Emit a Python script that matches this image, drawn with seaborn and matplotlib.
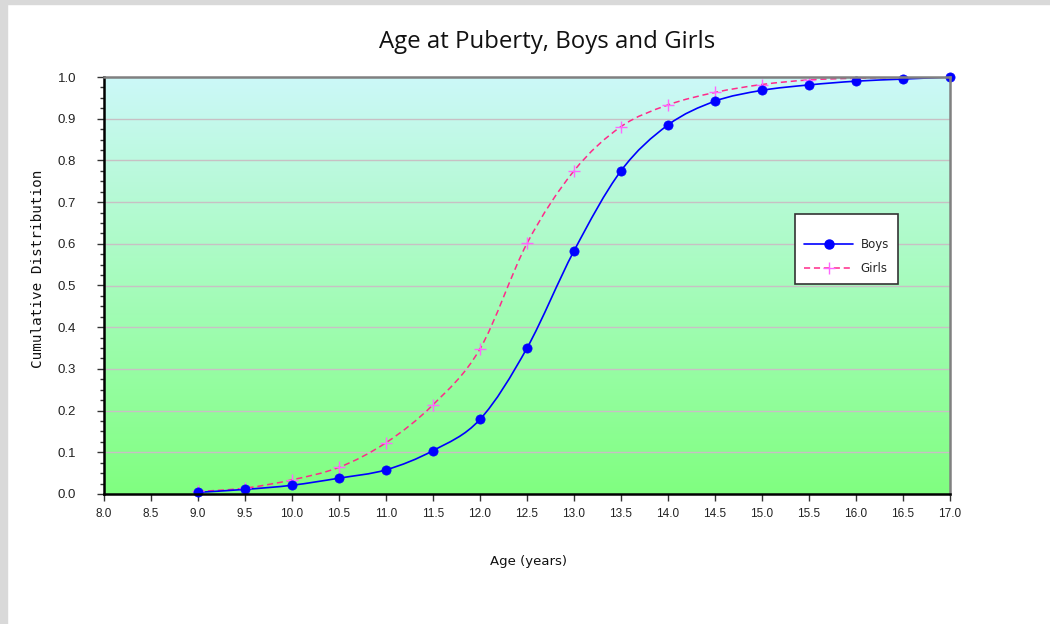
import numpy as np
import matplotlib
matplotlib.use("Agg")
import matplotlib.pyplot as plt
import seaborn as sns
from matplotlib.path import Path
from matplotlib.patches import PathPatch, Rectangle
from matplotlib.lines import Line2D
from matplotlib.ticker import MultipleLocator, FormatStrFormatter
import pandas as pd

ages = [9.0, 9.5, 10.0, 10.5, 11.0, 11.5, 12.0, 12.5, 13.0, 13.5, 14.0, 14.5, 15.0, 15.5, 16.0, 16.5, 17.0]
boys = [0.004, 0.011, 0.021, 0.038, 0.058, 0.104, 0.179, 0.350, 0.583, 0.775, 0.885, 0.942, 0.968, 0.981, 0.990, 0.995, 1.000]
girls = [0.006, 0.014, 0.034, 0.064, 0.123, 0.214, 0.348, 0.601, 0.775, 0.881, 0.933, 0.963, 0.982, 0.993, 0.997, 0.999, 1.000]
series_names = ["Boys", "Girls"]
title = "Age at Puberty, Boys and Girls"
xlabel = "Age (years)"
ylabel = "Cumulative Distribution"

sns.set_theme(style="white")

W, H = 1050, 624
fig = plt.figure(figsize=(W / 100, H / 100), dpi=100)
fig.patch.set_facecolor("white")
# gray frame strips
fig.patches.append(Rectangle((0, 0), 7 / W, 1, transform=fig.transFigure, color="#D9D9D9", zorder=0))
fig.patches.append(Rectangle((0, 1 - 4 / H), 1, 4 / H, transform=fig.transFigure, color="#D9D9D9", zorder=0))

left, right, top, bottom = 104, 950, 77, 494
ax = fig.add_axes([left / W, 1 - bottom / H, (right - left) / W, (bottom - top) / H])
ax.set_xlim(8, 17)
ax.set_ylim(0, 1)

# gradient background
grad = np.linspace(0, 1, 256).reshape(-1, 1)
c_top = np.array([0xCC, 0xF8, 0xF8]) / 255
c_bot = np.array([0x80, 0xFF, 0x80]) / 255
img = c_top[None, None, :] * (1 - grad[..., None]) + c_bot[None, None, :] * grad[..., None]
ax.imshow(img, extent=[8, 17, 0, 1], aspect="auto", origin="upper", zorder=0)

for yv in np.arange(0.1, 1.0, 0.1):
    ax.axhline(yv, color="#C8C0C4", lw=1.0, zorder=1)


def smooth_path(xs, ys):
    pts = np.column_stack([xs, ys])
    n = len(pts)
    verts = [pts[0]]
    codes = [Path.MOVETO]
    for i in range(n - 1):
        p0 = pts[i - 1] if i > 0 else pts[i]
        p1 = pts[i]
        p2 = pts[i + 1]
        p3 = pts[i + 2] if i + 2 < n else pts[i + 1]
        c1 = p1 + (p2 - p0) / 6.0
        c2 = p2 - (p3 - p1) / 6.0
        verts += [c1, c2, p2]
        codes += [Path.CURVE4] * 3
    return Path(verts, codes)


df = pd.DataFrame({"age": ages * 2, "value": boys + girls,
                   "series": [series_names[0]] * len(ages) + [series_names[1]] * len(ages)})

boys_color = "#0000FF"
girls_line = "#FF2A8A"
girls_marker = "#FF66FF"

ax.add_patch(PathPatch(smooth_path(ages, girls), fill=False, edgecolor=girls_line, lw=1.1,
                       linestyle=(0, (4, 2.5)), zorder=3))
ax.add_patch(PathPatch(smooth_path(ages, boys), fill=False, edgecolor=boys_color, lw=1.2, zorder=4))

sns.scatterplot(data=df[df.series == "Girls"], x="age", y="value", marker="+", s=65,
                color=girls_marker, linewidth=1.0, ax=ax, zorder=5, legend=False)
sns.scatterplot(data=df[df.series == "Boys"], x="age", y="value", marker="o", s=44,
                color=boys_color, edgecolor=boys_color, linewidth=0.5, ax=ax, zorder=6, legend=False, clip_on=False)

ax.set_xlabel("")
ax.set_ylabel("")

# spines
for s in ["left", "bottom"]:
    ax.spines[s].set_color("black")
    ax.spines[s].set_linewidth(1.8)
for s in ["top", "right"]:
    ax.spines[s].set_color("#808080")
    ax.spines[s].set_linewidth(1.8)
for s in ax.spines.values():
    s.set_visible(True)
    s.set_zorder(7)

ax.xaxis.set_major_locator(MultipleLocator(0.5))
ax.xaxis.set_major_formatter(FormatStrFormatter("%.1f"))
ax.yaxis.set_major_locator(MultipleLocator(0.1))
ax.yaxis.set_minor_locator(MultipleLocator(0.025))
ax.yaxis.set_major_formatter(FormatStrFormatter("%.1f"))
ax.tick_params(axis="x", which="major", direction="out", length=5, width=1, color="#333333",
               pad=5, labelsize=8.5, labelcolor="#222222", bottom=True)
ax.tick_params(axis="y", which="major", direction="out", length=5, width=1, color="#333333",
               pad=15, labelsize=9.5, labelcolor="#222222", left=True)
ax.tick_params(axis="y", which="minor", direction="out", length=3, width=1, color="#333333", left=True)
for lab in ax.get_xticklabels():
    lab.set_fontfamily("Liberation Sans")
    lab.set_fontsize(8.5)
for lab in ax.get_yticklabels():
    lab.set_fontfamily("Liberation Sans")
    lab.set_fontsize(9.5)

fig.text(547 / W, 1 - 42 / H, title, ha="center", va="center", fontsize=17.3, family="Open Sans", color="#111111")
fig.text(528 / W, 1 - 562 / H, xlabel, ha="center", va="center", fontsize=9.5, family="DejaVu Sans", color="#111111")
fig.text(38 / W, 1 - 269 / H, ylabel, ha="center", va="center", rotation=90, fontsize=10.3,
         family="DejaVu Sans Mono", color="#111111")

handles = [
    Line2D([], [], color=boys_color, lw=1.2, marker="o", markersize=6.5, markerfacecolor=boys_color),
    Line2D([], [], color=girls_line, lw=1.1, linestyle=(0, (4, 2.5)), marker="+", markersize=9,
           markeredgecolor=girls_marker, markeredgewidth=1.0),
]
leg = ax.legend(handles, series_names, loc="upper left", bbox_to_anchor=(795 / W, 1 - 214 / H),
                bbox_transform=fig.transFigure, frameon=True, fancybox=False,
                handlelength=4.2, handletextpad=0.6, labelspacing=0.95, borderpad=0.75,
                borderaxespad=0, prop={"family": "DejaVu Sans", "size": 8.5},
                title=" ", title_fontproperties={"size": 3})
leg.get_frame().set_edgecolor("#333333")
leg.get_frame().set_linewidth(1.2)
leg.get_frame().set_facecolor("white")
leg.get_frame().set_alpha(1)
leg.set_zorder(10)

fig.savefig("out.png", dpi=100)
